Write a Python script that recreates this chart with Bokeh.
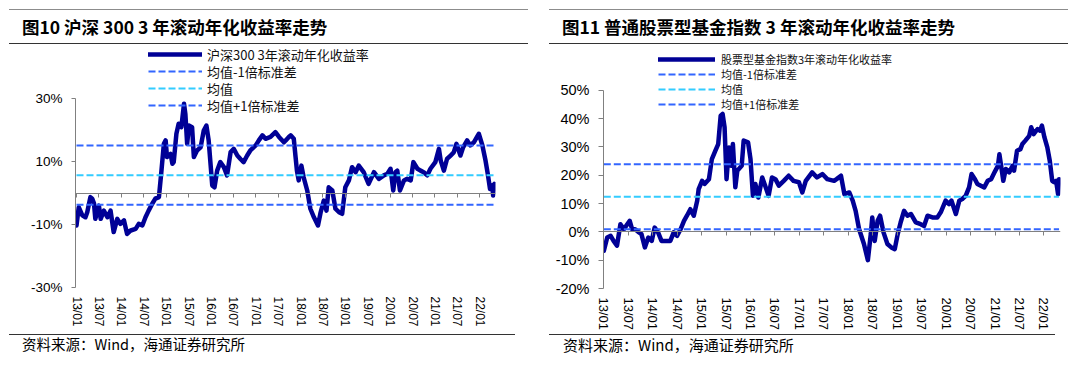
from bokeh.plotting import figure
from bokeh.models import (Range1d, FixedTicker, PrintfTickFormatter, LinearAxis, Div,
                          Legend, LegendItem)
from bokeh.layouts import row, column
from bokeh.embed import file_html
from bokeh.resources import INLINE

# ---------------- data ----------------
x_tick_labels = ["13/01", "13/07", "14/01", "14/07", "15/01", "15/07", "16/01", "16/07",
                 "17/01", "17/07", "18/01", "18/07", "19/01", "19/07", "20/01", "20/07",
                 "21/01", "21/07", "22/01"]

left_title = "图10 沪深 300 3 年滚动年化收益率走势"
right_title = "图11 普通股票型基金指数 3 年滚动年化收益率走势"
source_text = "资料来源：Wind，海通证券研究所"
band_names = ["均值-1倍标准差", "均值", "均值+1倍标准差"]

hs300_name = "沪深300 3年滚动年化收益率"
hs300_t = [2013.00, 2013.05, 2013.13, 2013.20, 2013.24, 2013.31, 2013.35, 2013.39, 2013.42, 2013.50,
           2013.54, 2013.61, 2013.69, 2013.76, 2013.83, 2013.91, 2013.98, 2014.06, 2014.13, 2014.21,
           2014.32, 2014.39, 2014.47, 2014.54, 2014.61, 2014.69, 2014.76, 2014.84, 2014.89, 2014.95,
           2014.99, 2015.02, 2015.10, 2015.14, 2015.17, 2015.23, 2015.28, 2015.34, 2015.40, 2015.43,
           2015.47, 2015.51, 2015.58, 2015.62, 2015.69, 2015.77, 2015.84, 2015.90, 2015.95, 2016.03,
           2016.08, 2016.14, 2016.21, 2016.29, 2016.36, 2016.44, 2016.51, 2016.59, 2016.66, 2016.73,
           2016.81, 2016.88, 2017.00, 2017.07, 2017.15, 2017.22, 2017.33, 2017.44, 2017.52, 2017.63,
           2017.67, 2017.74, 2017.78, 2017.85, 2017.89, 2017.92, 2017.96, 2018.02, 2018.07, 2018.15,
           2018.22, 2018.30, 2018.39, 2018.45, 2018.52, 2018.58, 2018.63, 2018.71, 2018.78, 2018.86,
           2018.93, 2019.00, 2019.08, 2019.15, 2019.23, 2019.30, 2019.41, 2019.52, 2019.64, 2019.75,
           2019.86, 2019.94, 2020.01, 2020.07, 2020.12, 2020.16, 2020.22, 2020.31, 2020.38, 2020.46,
           2020.52, 2020.61, 2020.68, 2020.75, 2020.83, 2020.90, 2021.01, 2021.09, 2021.13, 2021.20,
           2021.27, 2021.35, 2021.42, 2021.48, 2021.57, 2021.63, 2021.72, 2021.79, 2021.87, 2021.94,
           2021.98, 2022.06, 2022.13, 2022.18, 2022.23, 2022.28, 2022.30, 2022.33]
hs300_v = [-10.3, -4.5, -7.1, -7.7, -6.1, -1.3, -1.8, -3.3, -8.2, -4.0,
           -8.2, -5.6, -7.7, -5.6, -12.4, -8.2, -9.8, -8.7, -13.0, -11.9,
           -11.4, -9.8, -10.3, -7.7, -5.6, -3.4, -1.8, -1.3, 6.1, 15.6,
           16.7, 11.4, 12.4, 9.3, 9.8, 18.8, 22.0, 20.9, 28.3, 25.1,
           15.6, 21.4, 20.9, 11.4, 13.5, 14.5, 19.8, 21.4, 16.7, 2.4,
           1.8, 7.1, 9.8, 8.2, 5.6, 13.0, 14.0, 11.9, 10.8, 9.8,
           11.9, 13.5, 15.1, 16.7, 18.3, 17.2, 17.8, 19.3, 17.8, 16.1,
           16.7, 17.8, 18.3, 17.2, 11.4, 7.1, 4.0, 8.7, 5.0, 0.8,
           -5.0, -7.7, -10.3, -6.1, -2.4, -5.6, 1.8, 0.8, -5.0, -6.1,
           -6.6, 1.8, 4.0, 8.2, 6.6, 8.7, 6.6, 2.9, 6.6, 4.5,
           5.6, 6.1, 7.7, 0.8, 6.6, 7.1, 0.8, 4.0, 4.5, 4.0,
           9.8, 7.7, 7.1, 6.6, 5.6, 7.7, 9.8, 14.0, 10.3, 7.1,
           10.8, 11.9, 12.9, 15.6, 11.9, 14.5, 16.7, 15.1, 16.1, 17.8,
           18.8, 15.1, 10.3, 6.1, 1.3, 2.4, -0.8, 2.9]
hs300_band = [-3.7, 5.6, 15.1]
hs300_yticks = [-30, -10, 10, 30]

fund_name = "股票型基金指数3年滚动年化收益率"
fund_t = [2013.00, 2013.07, 2013.14, 2013.20, 2013.27, 2013.34, 2013.41, 2013.48, 2013.53, 2013.58,
          2013.64, 2013.72, 2013.77, 2013.84, 2013.91, 2013.98, 2014.04, 2014.11, 2014.18, 2014.26,
          2014.36, 2014.43, 2014.50, 2014.57, 2014.64, 2014.70, 2014.77, 2014.84, 2014.91, 2014.94,
          2015.01, 2015.06, 2015.15, 2015.21, 2015.28, 2015.34, 2015.39, 2015.43, 2015.47, 2015.51,
          2015.56, 2015.61, 2015.64, 2015.69, 2015.73, 2015.82, 2015.86, 2015.95, 2016.00, 2016.05,
          2016.10, 2016.16, 2016.24, 2016.30, 2016.37, 2016.44, 2016.51, 2016.58, 2016.68, 2016.78,
          2016.88, 2016.99, 2017.06, 2017.13, 2017.26, 2017.36, 2017.47, 2017.57, 2017.71, 2017.76,
          2017.85, 2017.92, 2018.02, 2018.09, 2018.15, 2018.22, 2018.32, 2018.40, 2018.46, 2018.49,
          2018.54, 2018.60, 2018.65, 2018.72, 2018.80, 2018.88, 2018.95, 2019.01, 2019.07, 2019.14,
          2019.21, 2019.28, 2019.38, 2019.48, 2019.55, 2019.62, 2019.72, 2019.82, 2019.89, 2019.99,
          2020.06, 2020.11, 2020.20, 2020.27, 2020.33, 2020.40, 2020.47, 2020.52, 2020.59, 2020.64,
          2020.71, 2020.78, 2020.85, 2020.92, 2020.99, 2021.06, 2021.09, 2021.14, 2021.17, 2021.22,
          2021.29, 2021.36, 2021.39, 2021.45, 2021.52, 2021.56, 2021.62, 2021.70, 2021.74, 2021.79,
          2021.87, 2021.92, 2021.96, 2022.01, 2022.07, 2022.12, 2022.17, 2022.21, 2022.25, 2022.29,
          2022.31]
fund_v = [-6.7, -2.0, -1.4, -3.2, -4.9, 2.7, 0.9, 2.7, 3.9, 0.9,
          0.9, -0.2, -0.8, -5.5, -2.0, -3.2, 1.5, -0.2, -3.2, -3.2,
          -3.2, -0.2, -1.4, 0.9, 3.9, 5.7, 8.0, 5.7, 11.0, 15.1,
          18.0, 16.9, 18.6, 25.7, 28.6, 31.0, 41.0, 41.6, 36.9, 18.6,
          29.8, 23.3, 31.0, 15.7, 21.6, 23.3, 32.2, 31.6, 25.7, 12.7,
          16.9, 12.1, 19.2, 16.3, 12.7, 19.2, 18.6, 16.3, 18.0, 19.8,
          18.0, 17.5, 13.9, 18.0, 21.0, 19.2, 20.4, 18.6, 18.0, 18.6,
          19.8, 13.3, 13.9, 11.0, 7.4, 1.0, -4.3, -10.0, -0.8, 5.1,
          -3.2, 3.9, 5.7, -0.2, -4.3, -5.5, -6.1, -0.8, 3.3, 7.4,
          5.7, 6.3, 3.3, 2.7, 2.1, 5.7, 5.1, 5.1, 6.9, 11.0,
          9.8, 11.0, 6.3, 11.0, 11.6, 12.7, 15.7, 20.4, 18.6, 16.9,
          16.3, 15.7, 18.0, 18.6, 21.0, 23.3, 27.4, 21.6, 18.0, 22.2,
          21.0, 23.3, 21.6, 28.6, 29.2, 31.0, 32.2, 33.9, 36.9, 34.5,
          36.3, 35.7, 37.5, 33.4, 29.8, 25.1, 18.0, 17.5, 18.0, 13.3,
          18.6]
fund_band = [0.95, 12.4, 23.9]
fund_yticks = [-20, -10, 0, 10, 20, 30, 40, 50]

# ---------------- styling ----------------
MAIN_COLOR = "#000096"
BAND_COLORS = ["#3366FF", "#33CCFF", "#3366FF"]
CJK = "Noto Sans CJK SC"
LAT = "Liberation Sans"
xt = [2000 + int(s[:2]) + (int(s[3:]) - 1) / 12 for s in x_tick_labels]

PANEL_W = 540
TITLE_H = 45
FIG_H = 289
FOOT_H = 34


def title_div(text, pad_left):
    html = (f'<div style="margin:9px 0 0 9px;width:506px;height:33px;'
            f'border-top:1.6px solid #8c8c8c;border-bottom:1.1px solid #333;'
            f'box-sizing:content-box;padding-left:{pad_left}px;'
            f'font-family:\'{CJK}\';font-weight:bold;font-size:17.5px;'
            f'line-height:34px;white-space:nowrap;color:#000;">{text}</div>')
    return Div(text=html, width=PANEL_W, height=TITLE_H, margin=(0, 0, 0, 0))


def foot_div(text, pad_left, fs, lh):
    html = (f'<div style="margin:0 0 0 9px;width:506px;'
            f'border-top:1.4px solid #333;padding-left:{pad_left}px;'
            f'font-family:\'{CJK}\';font-size:{fs}px;line-height:{lh}px;'
            f'white-space:nowrap;color:#000;">{text}</div>')
    return Div(text=html, width=PANEL_W, height=FOOT_H, margin=(0, 0, 0, 0))


def make_panel(cfg):
    W, H = PANEL_W, FIG_H
    fl, fr, fb = cfg["frame"]  # frame left/right/bottom inside the figure (px), top = 0
    ppx, ppy = cfg["ppx"], cfg["ppy"]
    x0 = cfg["x_at_left"]
    y0 = cfg["y_at_bottom"]
    p = figure(width=W, height=H, output_backend="svg", toolbar_location=None, title=None,
               x_range=Range1d(x0, x0 + (fr - fl) / ppx),
               y_range=Range1d(y0, y0 + fb / ppy),
               min_border_left=fl, min_border_right=W - fr,
               min_border_top=0, min_border_bottom=H - fb,
               outline_line_color=None, background_fill_color="white",
               border_fill_color="white", margin=(0, 0, 0, 0))
    p.xgrid.visible = False
    p.ygrid.visible = False

    xa = p.xaxis[0]
    xa.ticker = FixedTicker(ticks=xt)
    xa.major_label_overrides = {t: l for t, l in zip(xt, x_tick_labels)}
    xa.major_label_orientation = "vertical"
    xa.axis_line_color = None
    xa.major_tick_line_color = None
    xa.minor_tick_line_color = None
    xa.major_tick_out = 0
    xa.major_tick_in = 0
    xa.major_label_standoff = 9
    xa.major_label_text_font = LAT
    xa.major_label_text_font_size = cfg["x_fs"]
    xa.major_label_text_color = "black"

    zax = LinearAxis(fixed_location=0, ticker=FixedTicker(ticks=xt),
                     axis_line_color="#808080", major_tick_line_color="#808080",
                     major_tick_out=4, major_tick_in=0, minor_tick_line_color=None,
                     major_label_text_alpha=0, major_label_text_font_size="1px")
    p.add_layout(zax, "below")

    ya = p.yaxis[0]
    yt = cfg["yticks"]
    ya.ticker = FixedTicker(ticks=yt)
    ya.formatter = PrintfTickFormatter(format="%d%%")
    ya.bounds = (yt[0], yt[-1])
    ya.axis_line_color = "#808080"
    ya.major_tick_line_color = "#808080"
    ya.minor_tick_line_color = None
    ya.major_tick_out = cfg["tick_out"]
    ya.major_tick_in = 0
    ya.major_label_standoff = 9
    ya.major_label_text_font = LAT
    ya.major_label_text_font_size = cfg["y_fs"]
    ya.major_label_text_color = "black"

    t, v, band = cfg["t"], cfg["v"], cfg["band"]
    main = p.line(t, v, line_color=MAIN_COLOR, line_width=4.5, line_join="round",
                  line_cap="round")
    band_r = []
    for val, col in zip(band, BAND_COLORS):
        band_r.append(p.line([t[0], t[-1]], [val, val], line_color=col, line_width=2,
                             line_dash="7 3"))

    # page -> frame-screen conversion (figure top on page = TITLE_H)
    pl, pb = cfg["page_left"] + fl, TITLE_H + fb

    lx = cfg["legend_x"]
    for rend, name, yc in zip([main] + band_r, [cfg["name"]] + band_names, cfg["legend_rows"]):
        lg = Legend(items=[LegendItem(label=name, renderers=[rend])],
                    location=(lx - pl, pb - (yc + 12)), orientation="vertical",
                    padding=0, margin=0, spacing=0,
                    glyph_width=cfg["glyph_w"], glyph_height=24, label_height=24,
                    label_standoff=cfg["standoff"],
                    border_line_color=None, background_fill_alpha=0,
                    label_text_font=CJK, label_text_font_size=cfg["legend_fs"],
                    label_text_color="#111111")
        p.add_layout(lg)
    return p


left_cfg = dict(
    frame=(75, 495, 242), ppx=44.8, ppy=3.15,
    x_at_left=2013 - 1 / 44.8, y_at_bottom=-30, yticks=hs300_yticks, tick_out=4,
    t=hs300_t, v=hs300_v, band=hs300_band, name=hs300_name, page_left=0,
    legend_x=148, legend_rows=[54, 71, 88, 105], glyph_w=54, standoff=5, legend_fs="13px",
    x_fs="12px", y_fs="13.5px",
)
right_cfg = dict(
    frame=(63, 520, 243), ppx=48.9, ppy=2.833,
    x_at_left=2013 - 0.3 / 48.9, y_at_bottom=-20, yticks=fund_yticks, tick_out=5,
    t=fund_t, v=fund_v, band=fund_band, name=fund_name, page_left=540,
    legend_x=658, legend_rows=[59, 74, 89, 104], glyph_w=57, standoff=6, legend_fs="11px",
    x_fs="13px", y_fs="14.5px",
)

p1 = make_panel(left_cfg)
p2 = make_panel(right_cfg)

left_col = column(title_div(left_title, 13), p1, foot_div(source_text, 13, 14.5, 18),
                  spacing=0, margin=(0, 0, 0, 0))
right_col = column(title_div(right_title, 13), p2, foot_div(source_text, 14, 15, 19),
                   spacing=0, margin=(0, 0, 0, 0))
layout = row(left_col, right_col, spacing=0, margin=(0, 0, 0, 0))

open("out.html", "w").write(file_html(layout, INLINE))
